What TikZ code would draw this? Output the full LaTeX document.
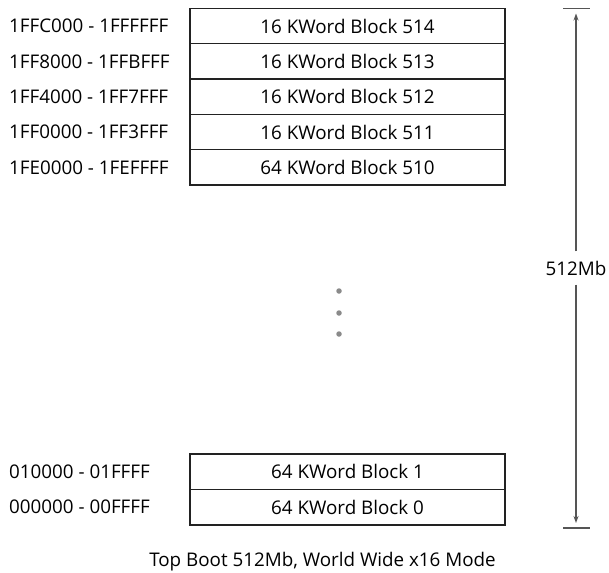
\documentclass[tikz,border=0pt]{standalone}
\usepackage{fontspec}
\setmainfont{Open Sans}
\usetikzlibrary{arrows.meta, positioning}
\definecolor{blockline}{HTML}{222222}
\definecolor{dimgrey}{HTML}{555555}
\definecolor{dotgrey}{HTML}{8a8a8a}
\tikzset{
  blockbox/.style={rectangle, draw=blockline, line width=1.3pt, fill=white,
                   minimum width=315pt, minimum height=35.4pt, inner sep=0pt,
                   font=\fontsize{18.8}{22}\selectfont},
  addrlab/.style={anchor=west, inner sep=0pt, font=\fontsize{18.8}{22}\selectfont},
  sizelab/.style={inner sep=0pt, font=\fontsize{18.8}{22}\selectfont},
  dimline/.style={draw=dimgrey, line width=1.3pt},
  dimarrow/.style={-{Stealth[length=7pt,width=5pt]}, draw=dimgrey, line width=1.3pt},
  moredot/.style={circle, fill=dotgrey, minimum size=5.5pt, inner sep=0pt},
}
\begin{document}
\begin{tikzpicture}[x=1pt, y=-1pt]
  \useasboundingbox (0,0) rectangle (609,572);

  % --- top blocks ---
  \foreach \n/\sz/\addr [count=\i from 0] in
      {514/16/1FFC000 - 1FFFFFF, 513/16/1FF8000 - 1FFBFFF,
       512/16/1FF4000 - 1FF7FFF, 511/16/1FF0000 - 1FF3FFF,
       510/64/1FE0000 - 1FEFFFF}{
    \node[blockbox] (blk\n) at (347.5, 26.2+35.3*\i) {\sz\ KWord Block \n};
    \node[addrlab]  (addr\n) at (9, 26.2+35.3*\i) {\addr};
  }

  % --- bottom blocks ---
  \node[blockbox] (blk1) at (347.5, 471.8) {64 KWord Block 1};
  \node[blockbox] (blk0) at (347.5, 507.2) {64 KWord Block 0};
  \node[addrlab]  (addr1) at (9, 471.8) {010000 - 01FFFF};
  \node[addrlab]  (addr0) at (9, 507.2) {000000 - 00FFFF};

  % --- gap dots ---
  \foreach \y [count=\j] in {291,313,334}{\node[moredot] (dot\j) at (339, \y) {};}

  % --- size dimension ---
  \coordinate (toptick)  at (576, 8.5);
  \coordinate (bottick)  at (576, 528);
  \draw[dimline] ([xshift=-13pt]toptick) -- ([xshift=14pt]toptick);
  \draw[dimline] ([xshift=-13pt]bottick) -- ([xshift=14pt]bottick);
  \node[sizelab, minimum height=33pt] (size) at (576, 268) {512Mb};
  \draw[dimarrow] (size.north) -- ([yshift=-5pt]toptick);
  \draw[dimarrow] (size.south) -- ([yshift=5pt]bottick);

  % --- caption ---
  \node[sizelab, anchor=base] (caption) at (322.5, 566) {Top Boot 512Mb, World Wide x16 Mode};
\end{tikzpicture}
\end{document}
